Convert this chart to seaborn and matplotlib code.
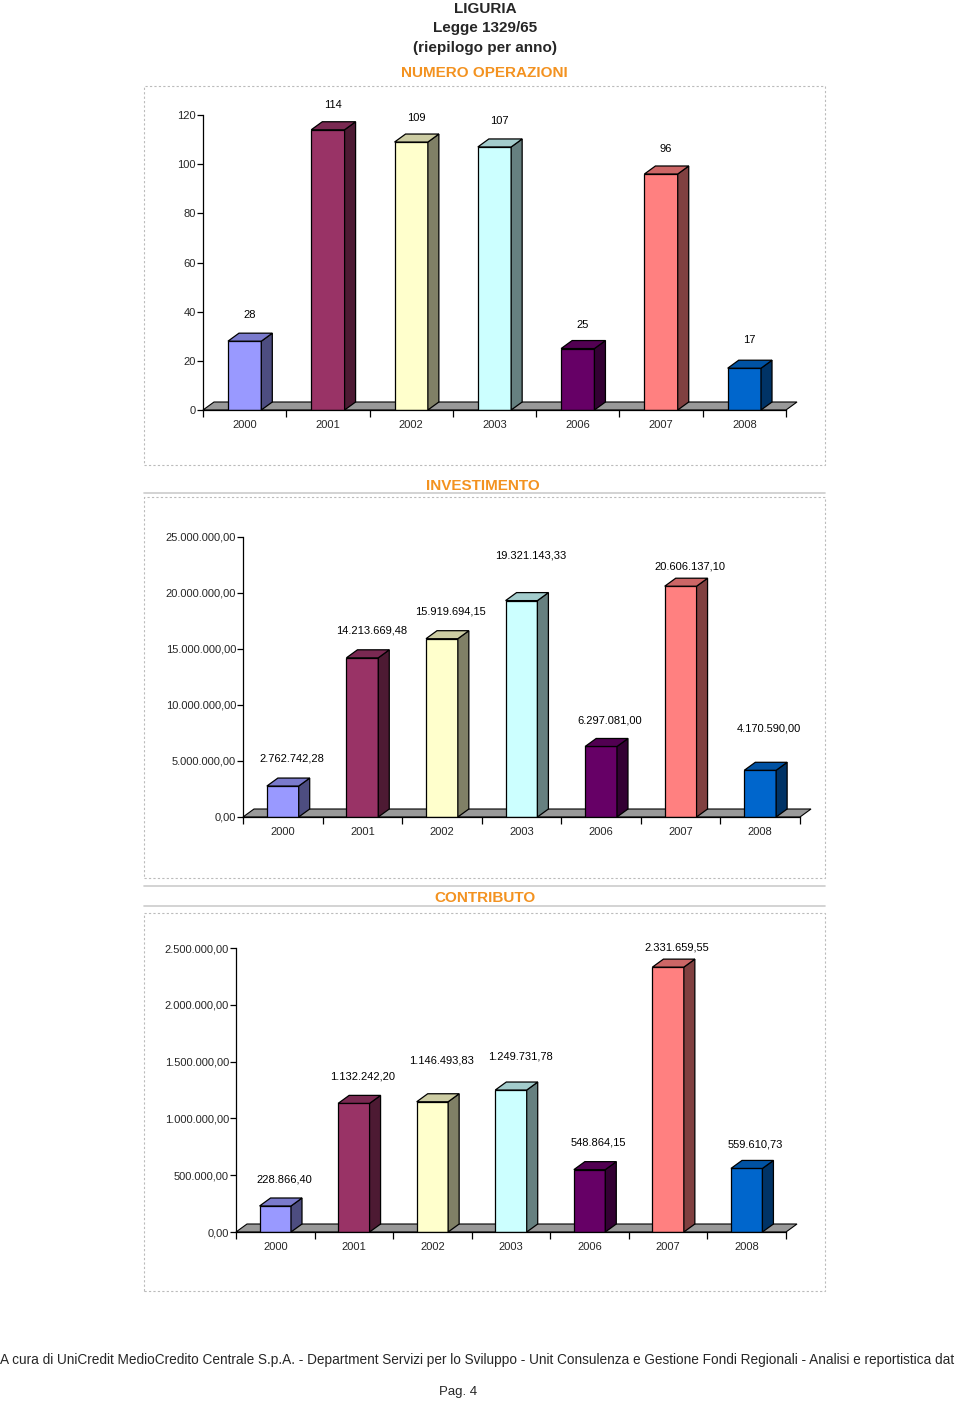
import numpy as np
import matplotlib
matplotlib.use("Agg")
import matplotlib.pyplot as plt
import seaborn as sns
from matplotlib import font_manager
from matplotlib.patches import Polygon, Rectangle
from matplotlib.lines import Line2D
from matplotlib.ticker import FuncFormatter

# dati (Liguria, Legge 1329/65)
anni = ["2000", "2001", "2002", "2003", "2006", "2007", "2008"]
operazioni = [28, 114, 109, 107, 25, 96, 17]
investimento = [2762742.28, 14213669.48, 15919694.15, 19321143.33,
                6297081.00, 20606137.10, 4170590.00]
contributo = [228866.40, 1132242.20, 1146493.83, 1249731.78,
              548864.15, 2331659.55, 559610.73]
colori = ["#9999FF", "#993366", "#FFFFCC", "#CCFFFF", "#660066", "#FF8080", "#0066CC"]

# spostamento verticale delle etichette (pixel sopra la barra)
off_op = [26, 25, 24, 26, 24, 25, 28]
off_inv = [28, 27, 27, 45, 26, 20, 42]
off_con = [27, 27, 41, 34, 27, 20, 24]

W, H = 960, 1401
sns.set_style("white")
nomi = {f.name for f in font_manager.fontManager.ttflist}
NARROW = "Liberation Sans Narrow" if "Liberation Sans Narrow" in nomi else "Liberation Sans"
plt.rcParams["font.family"] = ["Liberation Sans", "DejaVu Sans"]

fig = plt.figure(figsize=(W / 100, H / 100), dpi=100)
fig.patch.set_facecolor("white")


def fx(x):
    return x / W


def fy(y):
    return 1 - y / H


def it_num(v, dec=2):
    s = f"{v:,.{dec}f}"
    return s.replace(",", "#").replace(".", ",").replace("#", ".")


def scura(c, f):
    r, g, b = matplotlib.colors.to_rgb(c)
    return (r * f, g * f, b * f)


def grafico(box, valori, ymax, step, dec, offsets, dx_lbl):
    x0, y0, x1, y1 = box
    ax = fig.add_axes([fx(x0), fy(y1), fx(x1 - x0), (y1 - y0) / H])
    sns.barplot(x=anni, y=valori, hue=anni, palette=colori, width=0.4,
                saturation=1, legend=False, edgecolor="black", linewidth=0.9,
                ax=ax, zorder=3)
    barre = [p for p in ax.patches if isinstance(p, Rectangle)]
    barre = sorted(barre, key=lambda p: p.get_x())
    ax.set_xlim(-0.5, 6.5)
    ax.set_ylim(0, ymax)
    ax.set_facecolor("none")
    ax.set_xlabel("")
    ax.set_ylabel("")

    # profondita' 3D in unita' dati
    ddx = 11 * 7 / (x1 - x0)
    ddy = 8 * ymax / (y1 - y0)

    # pavimento grigio
    ax.add_patch(Polygon([(-0.5, 0), (6.5, 0), (6.5 + ddx, ddy), (-0.5 + ddx, ddy)],
                         closed=True, facecolor="#999999", edgecolor="black",
                         linewidth=0.8, clip_on=False, zorder=1))

    for i, p in enumerate(barre):
        x, w, h = p.get_x(), p.get_width(), p.get_height()
        c = colori[i]
        ax.add_patch(Polygon([(x + w, 0), (x + w + ddx, ddy), (x + w + ddx, h + ddy), (x + w, h)],
                             closed=True, facecolor=scura(c, 0.5), edgecolor="black",
                             linewidth=0.9, clip_on=False, zorder=4))
        ax.add_patch(Polygon([(x, h), (x + w, h), (x + w + ddx, h + ddy), (x + ddx, h + ddy)],
                             closed=True, facecolor=scura(c, 0.8), edgecolor="black",
                             linewidth=0.9, clip_on=False, zorder=4))
        testo = str(valori[i]) if dec == 0 else it_num(valori[i], dec)
        ax.annotate(testo, xy=(x + w / 2, h), xytext=(dx_lbl, offsets[i]),
                    textcoords="offset pixels", ha="center", va="center",
                    fontsize=8, color="black", zorder=6)

    for s in ["top", "right"]:
        ax.spines[s].set_visible(False)
    for s in ["left", "bottom"]:
        ax.spines[s].set_color("black")
        ax.spines[s].set_linewidth(0.9)
        ax.spines[s].set_zorder(5)

    ax.set_yticks(np.arange(0, ymax + step / 2, step))
    if dec == 0:
        ax.yaxis.set_major_formatter(FuncFormatter(lambda v, _: f"{int(v)}"))
    else:
        ax.yaxis.set_major_formatter(FuncFormatter(lambda v, _: it_num(v, dec)))
    ax.tick_params(axis="y", direction="out", length=4, width=0.9, color="black",
                   labelsize=8, pad=1, left=True)
    ax.set_xticks(range(len(anni)))
    ax.set_xticklabels(anni)
    ax.set_xticks(np.arange(-0.5, 7, 1), minor=True)
    ax.tick_params(axis="x", which="major", length=0, labelsize=8, pad=7)
    ax.tick_params(axis="x", which="minor", direction="out", length=5, width=0.9,
                   color="black", bottom=True)
    return ax


def cornice(x0, y0, x1, y1):
    fig.add_artist(Rectangle((fx(x0), fy(y1)), fx(x1 - x0), (y1 - y0) / H,
                             transform=fig.transFigure, fill=False,
                             edgecolor="#BBBBBB", linewidth=0.8, linestyle=(0, (2, 2))))


def linea(y):
    fig.add_artist(Line2D([fx(144), fx(825)], [fy(y), fy(y)], transform=fig.transFigure,
                          color="#CCCCCC", linewidth=1.2))


# titoli
fig.text(fx(485), fy(9), "LIGURIA", ha="center", va="center", fontsize=11, fontweight="bold")
fig.text(fx(485), fy(28), "Legge 1329/65", ha="center", va="center", fontsize=11, fontweight="bold")
fig.text(fx(485), fy(48), "(riepilogo per anno)", ha="center", va="center", fontsize=11, fontweight="bold")
ARANCIO = "#F39220"
fig.text(fx(484), fy(73), "NUMERO OPERAZIONI", ha="center", va="center", fontsize=11,
         fontweight="bold", color=ARANCIO)
fig.text(fx(483), fy(486), "INVESTIMENTO", ha="center", va="center", fontsize=11,
         fontweight="bold", color=ARANCIO)
fig.text(fx(485), fy(898), "CONTRIBUTO", ha="center", va="center", fontsize=11,
         fontweight="bold", color=ARANCIO)

cornice(144, 86, 825, 465)
linea(493)
cornice(144, 497, 825, 878)
linea(886)
linea(906)
cornice(144, 913, 825, 1291)

grafico((203, 115, 786, 410), operazioni, 120, 20, 0, off_op, 5)
grafico((243, 537, 800, 817), investimento, 25000000, 5000000, 2, off_inv, 9)
grafico((236, 948, 786, 1232), contributo, 2500000, 500000, 2, off_con, 9)

# piè di pagina
piede = ("A cura di UniCredit MedioCredito Centrale S.p.A. - Department Servizi per lo Sviluppo - "
         "Unit Consulenza e Gestione Fondi Regionali - Analisi e reportistica dat")
t = fig.text(0.0, fy(1360), piede, ha="left", va="center", fontsize=10, family=NARROW)
fig.canvas.draw()
larg = t.get_window_extent().width
t.set_fontsize(10 * 958 / larg)
fig.text(fx(458), fy(1392), "Pag. 4", ha="center", va="center", fontsize=9.5, family=NARROW)

fig.savefig("out.png", dpi=100, facecolor="white")
